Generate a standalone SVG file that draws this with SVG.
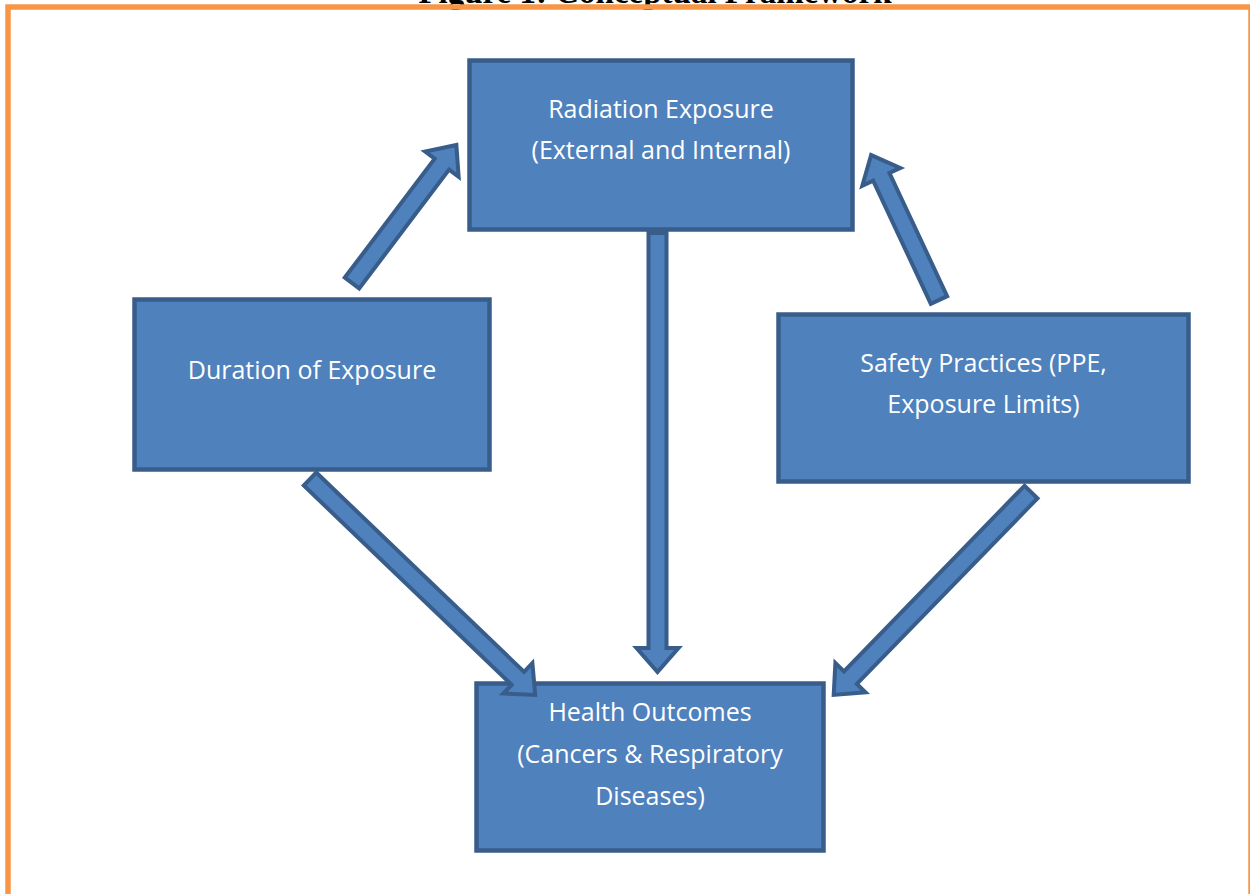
<svg xmlns="http://www.w3.org/2000/svg" width="1250" height="894" viewBox="0 0 1250 894">
  <style>
    .box { fill: #4F81BD; stroke: #385D8A; stroke-width: 4.5; }
    .arrow { fill: #4F81BD; stroke: #385D8A; stroke-width: 4; stroke-linejoin: miter; }
    .label { fill: #FFFFFF; font-family: "Open Sans", "Liberation Sans", sans-serif; font-size: 25px; text-anchor: middle; }
    .title { fill: #000000; font-family: "Liberation Serif", serif; font-weight: bold; font-size: 33px; text-anchor: middle; }
  </style>

  <rect x="0" y="0" width="1250" height="894" fill="#FFFFFF"/>

  <!-- heading, partly hidden above the frame -->
  <text class="title" x="655" y="3">Figure 1: Conceptual Framework</text>

  <!-- page frame -->
  <rect x="8" y="7" width="1243" height="900" fill="none" stroke="#F79646" stroke-width="5.5"/>

  <g id="radiation-exposure">
    <rect class="box" x="469.5" y="60.5" width="383" height="169"/>
    <text class="label" x="661" y="118">Radiation Exposure</text>
    <text class="label" x="661" y="159">(External and Internal)</text>
  </g>

  <g id="duration-of-exposure">
    <rect class="box" x="134.5" y="299.5" width="355" height="170"/>
    <text class="label" x="312" y="379">Duration of Exposure</text>
  </g>

  <g id="safety-practices">
    <rect class="box" x="778.5" y="314.5" width="410" height="167"/>
    <text class="label" x="983.5" y="372">Safety Practices (PPE,</text>
    <text class="label" x="983.5" y="413">Exposure Limits)</text>
  </g>

  <g id="health-outcomes">
    <rect class="box" x="476.5" y="683.5" width="347" height="167"/>
    <text class="label" x="650" y="721">Health Outcomes</text>
    <text class="label" x="650" y="763">(Cancers &amp; Respiratory</text>
    <text class="label" x="650" y="805">Diseases)</text>
  </g>

  <!-- block arrows, drawn over the boxes -->
  <g id="connectors">
    <polygon class="arrow" transform="translate(352,283) rotate(-52.9)" points="0,-9 149,-9 149,-21 173,0 149,21 149,9 0,9"/>
    <polygon class="arrow" transform="translate(939,300) rotate(-115.1)" points="0,-9 136,-9 136,-21 160,0 136,21 136,9 0,9"/>
    <polygon class="arrow" transform="translate(310,479) rotate(43.8)" points="0,-9 288,-9 288,-21 312,0 288,21 288,9 0,9"/>
    <polygon class="arrow" transform="translate(657.5,233) rotate(90)" points="0,-9 415,-9 415,-21 439,0 415,21 415,9 0,9"/>
    <polygon class="arrow" transform="translate(1031,492) rotate(134.2)" points="0,-9 259,-9 259,-21 283,0 259,21 259,9 0,9"/>
  </g>
</svg>
